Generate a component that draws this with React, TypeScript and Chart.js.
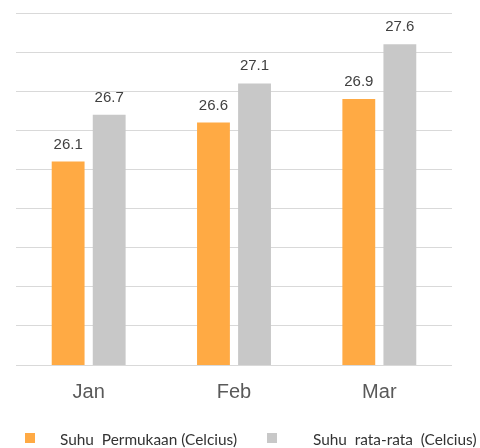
import React, { useEffect, useRef } from "react";
import { Chart, registerables } from "chart.js";

Chart.register(...registerables);

const categories = ["Jan", "Feb", "Mar"];
const surfaceTemp = [26.1, 26.6, 26.9];
const averageTemp = [26.7, 27.1, 27.6];
const seriesNames = ["Suhu  Permukaan (Celcius)", "Suhu  rata-rata  (Celcius)"];
const seriesColors = ["#FFAA44", "#C8C8C8"];

const valueLabelPlugin = {
  id: "valueLabels",
  afterDatasetsDraw(chart: any) {
    const ctx = chart.ctx;
    ctx.save();
    ctx.font = "15px 'Liberation Sans', Arial, sans-serif";
    ctx.fillStyle = "#404040";
    ctx.textAlign = "center";
    ctx.textBaseline = "alphabetic";
    chart.data.datasets.forEach((ds: any, i: number) => {
      const meta = chart.getDatasetMeta(i);
      meta.data.forEach((bar: any, j: number) => {
        ctx.fillText(String(ds.data[j]), bar.x, bar.y - 13);
      });
    });
    ctx.restore();
  },
};

const legendPlugin = {
  id: "customLegend",
  afterDraw(chart: any) {
    const ctx = chart.ctx;
    ctx.save();
    const xs = [25, 267];
    const textXs = [60, 313];
    chart.data.datasets.forEach((ds: any, i: number) => {
      ctx.fillStyle = ds.backgroundColor;
      ctx.fillRect(xs[i], 433, 10, 10);
      ctx.fillStyle = "#333333";
      ctx.font = "15.4px Lato, sans-serif";
      ctx.textAlign = "left";
      ctx.textBaseline = "alphabetic";
      ctx.fillText(ds.label, textXs[i], 445);
    });
    ctx.restore();
  },
};

export default function App() {
  const canvasRef = useRef<HTMLCanvasElement>(null);
  useEffect(() => {
    const chart = new Chart(canvasRef.current as HTMLCanvasElement, {
      type: "bar",
      data: {
        labels: categories,
        datasets: [
          {
            label: seriesNames[0],
            data: surfaceTemp,
            backgroundColor: seriesColors[0],
            categoryPercentage: 0.565,
            barPercentage: 0.8,
          },
          {
            label: seriesNames[1],
            data: averageTemp,
            backgroundColor: seriesColors[1],
            categoryPercentage: 0.565,
            barPercentage: 0.8,
          },
        ],
      },
      options: {
        animation: false,
        responsive: false,
        maintainAspectRatio: false,
        layout: { padding: { left: 16, right: 28, top: 13, bottom: 29 } },
        plugins: {
          legend: { display: false },
          tooltip: { enabled: false },
        },
        scales: {
          x: {
            grid: { display: false, drawTicks: false },
            border: { display: false },
            ticks: {
              color: "#595959",
              font: { family: "'Liberation Sans', Arial, sans-serif", size: 20 },
              padding: 15,
            },
          },
          y: {
            min: 23.5,
            max: 28,
            ticks: { display: false, stepSize: 0.5 },
            grid: { color: "#D9D9D9", lineWidth: 1, drawTicks: false },
            border: { display: false },
          },
        },
      },
      plugins: [valueLabelPlugin, legendPlugin],
    });
    return () => chart.destroy();
  }, []);
  return (
    <div style={{ position: "fixed", left: 0, top: 0, width: 480, height: 448, background: "#fff" }}>
      <canvas ref={canvasRef} width={480} height={448} style={{ width: 480, height: 448 }} />
    </div>
  );
}
